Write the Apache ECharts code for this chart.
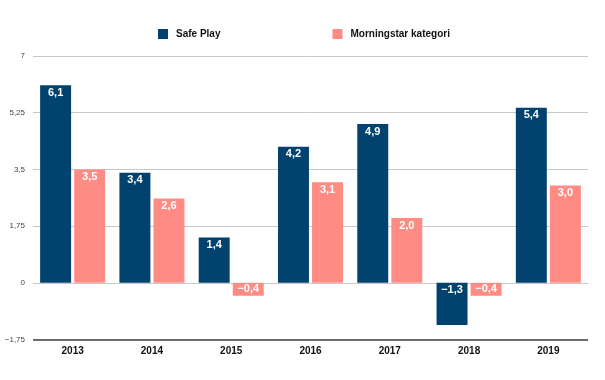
<!DOCTYPE html>
<html><head><meta charset="utf-8">
<script src="https://cdn.jsdelivr.net/npm/echarts@6/dist/echarts.min.js"></script>
<style>html,body{margin:0;padding:0;background:#fff}#c{width:605px;height:380px}</style>
</head><body><div id="c"></div>
<script>
var categories = ['2013','2014','2015','2016','2017','2018','2019'];
var safePlay = [6.1, 3.4, 1.4, 4.2, 4.9, -1.3, 5.4];
var morningstar = [3.5, 2.6, -0.4, 3.1, 2.0, -0.4, 3.0];
var seriesNames = ['Safe Play', 'Morningstar kategori'];

function fmt(v, d) {
  var s = Math.abs(v).toFixed(d).replace('.', ',');
  return (v < 0 ? '\u2212' : '') + s;
}
function fmtAxis(v) {
  var s = String(Math.abs(v)).replace('.', ',');
  return (v < 0 ? '\u2212' : '') + s;
}
function toItems(arr) {
  return arr.map(function (v) {
    return Math.abs(v) < 1 ? { value: v, label: { position: 'inside' } } : v;
  });
}
var chart = echarts.init(document.getElementById('c'));
var labelCfg = {
  show: true, position: 'insideTop', distance: 2,
  color: '#fff', fontWeight: 'bold', fontSize: 11, fontFamily: 'Liberation Sans, Arial, sans-serif',
  formatter: function (p) { return fmt(p.value, 1); }
};
chart.setOption({
  animation: false,
  textStyle: { fontFamily: 'Liberation Sans, Arial, sans-serif' },
  legend: {
    top: 24, left: 153, itemGap: 112, itemWidth: 10, itemHeight: 10, icon: 'rect',
    textStyle: { fontWeight: 'bold', fontSize: 10, color: '#111', padding: [0, 0, 0, 3] },
    data: seriesNames
  },
  grid: { left: 33, right: 17, top: 56, bottom: 40.5, containLabel: false },
  xAxis: {
    type: 'category', data: categories,
    axisLine: { show: false }, axisTick: { show: false },
    axisLabel: { fontWeight: 'bold', fontSize: 10, color: '#111', margin: 7 },
    position: 'bottom'
  },
  yAxis: {
    type: 'value', min: -1.75, max: 7, interval: 1.75,
    axisLine: { show: false }, axisTick: { show: false },
    axisLabel: { fontSize: 8, color: '#444', margin: 8, formatter: fmtAxis },
    splitLine: { lineStyle: { color: '#c8c8c8', width: 1 } }
  },
  series: [
    { name: seriesNames[0], type: 'bar', data: toItems(safePlay), itemStyle: { color: '#01426f' },
      barGap: '10%', barCategoryGap: '18%', label: labelCfg },
    { name: seriesNames[1], type: 'bar', data: toItems(morningstar), itemStyle: { color: '#ff8b84' },
      label: labelCfg,
      markLine: { silent: true, symbol: 'none', label: { show: false },
        lineStyle: { color: '#444', width: 1.5, type: 'solid' },
        data: [{ yAxis: -1.75 }] } }
  ]
});
</script></body></html>
